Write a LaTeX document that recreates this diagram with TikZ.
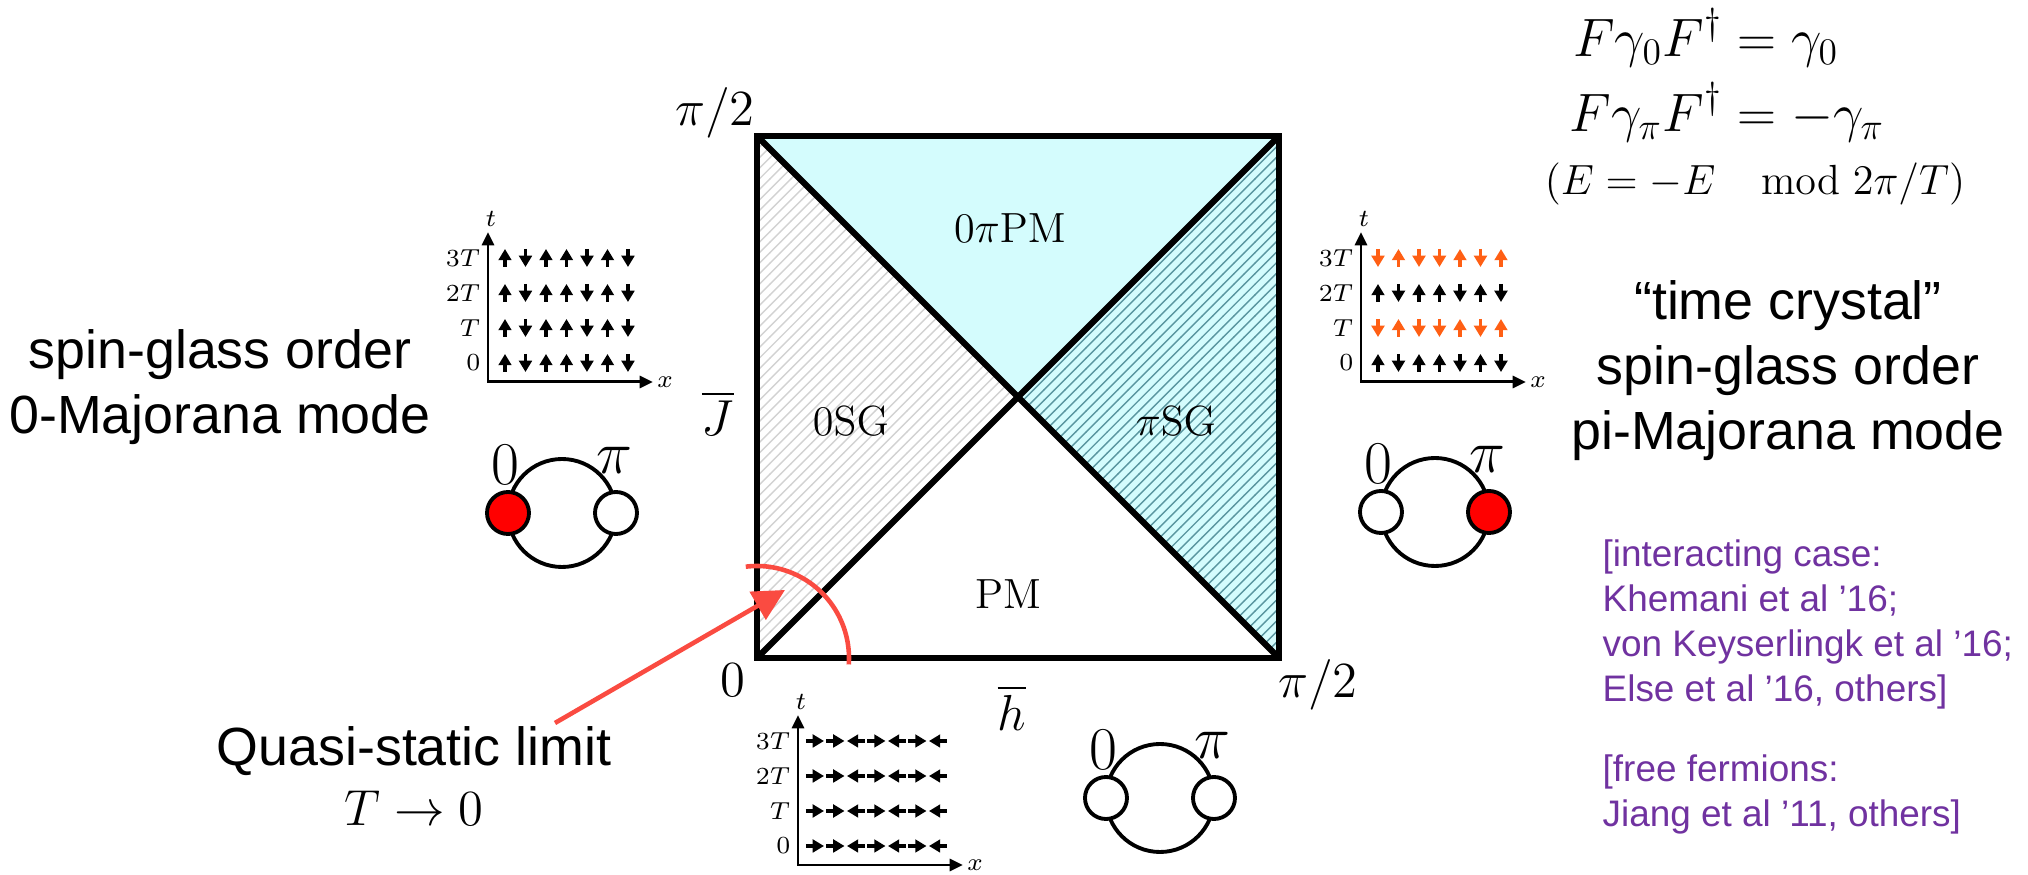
\documentclass[tikz,border=0pt]{standalone}
\usepackage{amsmath}
\usepackage[no-math]{fontspec}
\setmainfont{Liberation Sans}
\usetikzlibrary{arrows.meta,patterns}

\definecolor{phasecyan}{RGB}{212,252,253}
\definecolor{hatchteal}{RGB}{90,150,160}
\definecolor{hatchgray}{RGB}{210,210,210}
\definecolor{quasired}{RGB}{250,75,65}
\definecolor{majred}{RGB}{255,0,0}
\definecolor{spinorange}{RGB}{255,95,20}
\definecolor{refpurple}{RGB}{112,50,160}

\tikzset{
  border/.style={line width=1.8pt},
  spin/.style={line width=1pt,-{Triangle[length=3.2pt,width=3.6pt]}},
  taxis/.style={line width=0.85pt,{Triangle[length=3.8pt,width=3.4pt]}-{Triangle[length=3.8pt,width=3.4pt]}},
  ticklab/.style={font=\fontsize{7}{8}\selectfont,inner sep=0pt},
  ring/.style={line width=1.1pt},
  ringlab/.style={font=\fontsize{16}{18}\selectfont,inner sep=0pt},
  axislab/.style={font=\fontsize{14}{16}\selectfont,inner sep=0pt},
  phaselab/.style={font=\fontsize{12}{14}\selectfont,inner sep=0pt},
  bigtext/.style={font=\fontsize{15.3}{18.5}\selectfont,align=center,inner sep=0pt},
  reftext/.style={font=\fontsize{10.5}{12.8}\selectfont,text=refpurple,align=left,anchor=north west,inner sep=0pt},
  quasi/.style={quasired,line width=1.3pt}
}

\begin{document}
\begin{tikzpicture}
  \useasboundingbox (-7.57,-2.17) rectangle (12.71,6.58);

  % phase diagram of the driven chain
  \coordinate (lb) at (0,0);
  \coordinate (rb) at (5.22,0);
  \coordinate (rt) at (5.22,5.22);
  \coordinate (lt) at (0,5.22);
  \coordinate (mid) at (2.61,2.61);
  \fill[phasecyan] (lt) -- (rt) -- (mid) -- cycle;
  \fill[phasecyan] (rt) -- (rb) -- (mid) -- cycle;
  \fill[pattern=north east lines,pattern color=hatchteal] (rt) -- (rb) -- (mid) -- cycle;
  \fill[pattern=north east lines,pattern color=hatchgray] (lb) -- (lt) -- (mid) -- cycle;
  \draw[border] (lb) rectangle (rt);
  \draw[border] (lb) -- (rt);
  \draw[border] (lt) -- (rb);
  \node[axislab] (ytop) at (-0.42,5.45) {$\pi/2$};
  \node[axislab] (orig) at (-0.24,-0.22) {$0$};
  \node[axislab] (xend) at (5.61,-0.27) {$\pi/2$};
  \node[axislab] (jbar) at (-0.39,2.45) {$\overline{J}$};
  \node[axislab] (hbar) at (2.55,-0.50) {$\overline{h}$};
  \node[phaselab] (zpipm) at (2.53,4.30) {$0\pi\mathrm{PM}$};
  \node[phaselab] (zsg) at (0.94,2.37) {$0\mathrm{SG}$};
  \node[phaselab] (pisg) at (4.19,2.37) {$\pi\mathrm{SG}$};
  \node[phaselab] (pm) at (2.51,0.64) {$\mathrm{PM}$};

  % quasi-static limit
  \draw[quasi] (97:0.92) arc (97:-4:0.92);
  \coordinate (qstart) at (-2.02,-0.65);
  \coordinate (qtip) at (0.28,0.68);
  \draw[quasi,-{Triangle[length=9pt,width=9pt]}] (qstart) -- (qtip);
  \node[bigtext,font=\fontsize{15.3}{17}\selectfont,anchor=north] (qlim) at (-3.43,-0.68)
    {Quasi-static limit\\{\fontsize{14.4}{17}\selectfont$T\rightarrow 0$}};

  % left: spins frozen in time
  \begin{scope}[shift={(-2.69,2.76)}]
    \draw[taxis] (0,1.50) -- (0,0) -- (1.65,0);
    \node[ticklab] (lt-t) at (0.03,1.63) {$t$};
    \node[ticklab] (lt-x) at (1.77,0) {$x$};
    \foreach \y/\lab [count=\i] in {0.19/0,0.54/T,0.89/2T,1.24/3T}
      \node[ticklab,anchor=east] (ll\i) at (-0.07,\y) {$\lab$};
    \foreach \y in {0.19,0.54,0.89,1.24}
      \foreach \x/\s in {0.17/1,0.375/-1,0.58/1,0.785/1,0.99/-1,1.195/1,1.40/-1}
        \draw[spin] (\x,{\y-0.09*\s}) -- (\x,{\y+0.09*\s});
  \end{scope}
  \node[bigtext,anchor=north] (zsgtext) at (-5.37,3.29) {spin-glass order\\0-Majorana mode};
  \begin{scope}[shift={(-1.95,1.45)}]
    \draw[ring] (0,0) circle (0.54);
    \filldraw[ring,fill=majred] (-0.54,0) circle (0.21);
    \filldraw[ring,fill=white] (0.54,0) circle (0.21);
    \node[ringlab] (lzero) at (-0.57,0.48) {$0$};
    \node[ringlab] (lpi) at (0.52,0.53) {$\pi$};
  \end{scope}

  % right: spins flip every period
  \begin{scope}[shift={(6.04,2.76)}]
    \draw[taxis] (0,1.50) -- (0,0) -- (1.65,0);
    \node[ticklab] (rt-t) at (0.03,1.63) {$t$};
    \node[ticklab] (rt-x) at (1.77,0) {$x$};
    \foreach \y/\lab [count=\i] in {0.19/0,0.54/T,0.89/2T,1.24/3T}
      \node[ticklab,anchor=east] (rl\i) at (-0.07,\y) {$\lab$};
    \foreach \y/\f/\c in {0.19/1/black,0.54/-1/spinorange,0.89/1/black,1.24/-1/spinorange}
      \foreach \x/\s in {0.17/1,0.375/-1,0.58/1,0.785/1,0.99/-1,1.195/1,1.40/-1}
        \draw[spin,\c] (\x,{\y-0.09*\s*\f}) -- (\x,{\y+0.09*\s*\f});
  \end{scope}
  \node[bigtext,anchor=north] (pisgtext) at (10.31,3.78) {“time crystal”\\spin-glass order\\pi-Majorana mode};
  \begin{scope}[shift={(6.78,1.46)}]
    \draw[ring] (0,0) circle (0.54);
    \filldraw[ring,fill=white] (-0.54,0) circle (0.21);
    \filldraw[ring,fill=majred] (0.54,0) circle (0.21);
    \node[ringlab] (rzero) at (-0.57,0.48) {$0$};
    \node[ringlab] (rpi) at (0.52,0.53) {$\pi$};
  \end{scope}

  % bottom: paramagnet
  \begin{scope}[shift={(0.41,-2.07)}]
    \draw[taxis] (0,1.50) -- (0,0) -- (1.65,0);
    \node[ticklab] (bt-t) at (0.03,1.63) {$t$};
    \node[ticklab] (bt-x) at (1.77,0) {$x$};
    \foreach \y/\lab [count=\i] in {0.19/0,0.54/T,0.89/2T,1.24/3T}
      \node[ticklab,anchor=east] (bl\i) at (-0.07,\y) {$\lab$};
    \foreach \y in {0.19,0.54,0.89,1.24}
      \foreach \x/\s in {0.17/1,0.375/1,0.58/-1,0.785/1,0.99/-1,1.195/1,1.40/-1}
        \draw[spin] ({\x-0.09*\s},\y) -- ({\x+0.09*\s},\y);
  \end{scope}
  \begin{scope}[shift={(4.03,-1.40)}]
    \draw[ring] (0,0) circle (0.54);
    \filldraw[ring,fill=white] (-0.54,0) circle (0.21);
    \filldraw[ring,fill=white] (0.54,0) circle (0.21);
    \node[ringlab] (bzero) at (-0.57,0.48) {$0$};
    \node[ringlab] (bpi) at (0.52,0.53) {$\pi$};
  \end{scope}

  % Floquet symmetry relations
  \node[font=\fontsize{17.28}{18}\selectfont,scale=0.89,transform shape,anchor=west,inner sep=0pt] (floq) at (8.12,5.80)
    {$\begin{aligned} F\gamma_0F^\dagger &= \gamma_0\\[-1pt] F\gamma_\pi F^\dagger &= -\gamma_\pi \end{aligned}$};
  \node[font=\fontsize{13}{15}\selectfont,anchor=base,inner sep=0pt] (emod) at (9.98,4.63)
    {$(E=-E\quad\mathrm{mod}\ 2\pi/T)$};

  % references
  \node[reftext] (refint) at (8.45,1.19) {[interacting case:\\Khemani et al ’16;\\von Keyserlingk et al ’16;\\Else et al ’16, others]};
  \node[reftext] (reffree) at (8.45,-0.96) {[free fermions:\\Jiang et al ’11, others]};
\end{tikzpicture}
\end{document}
